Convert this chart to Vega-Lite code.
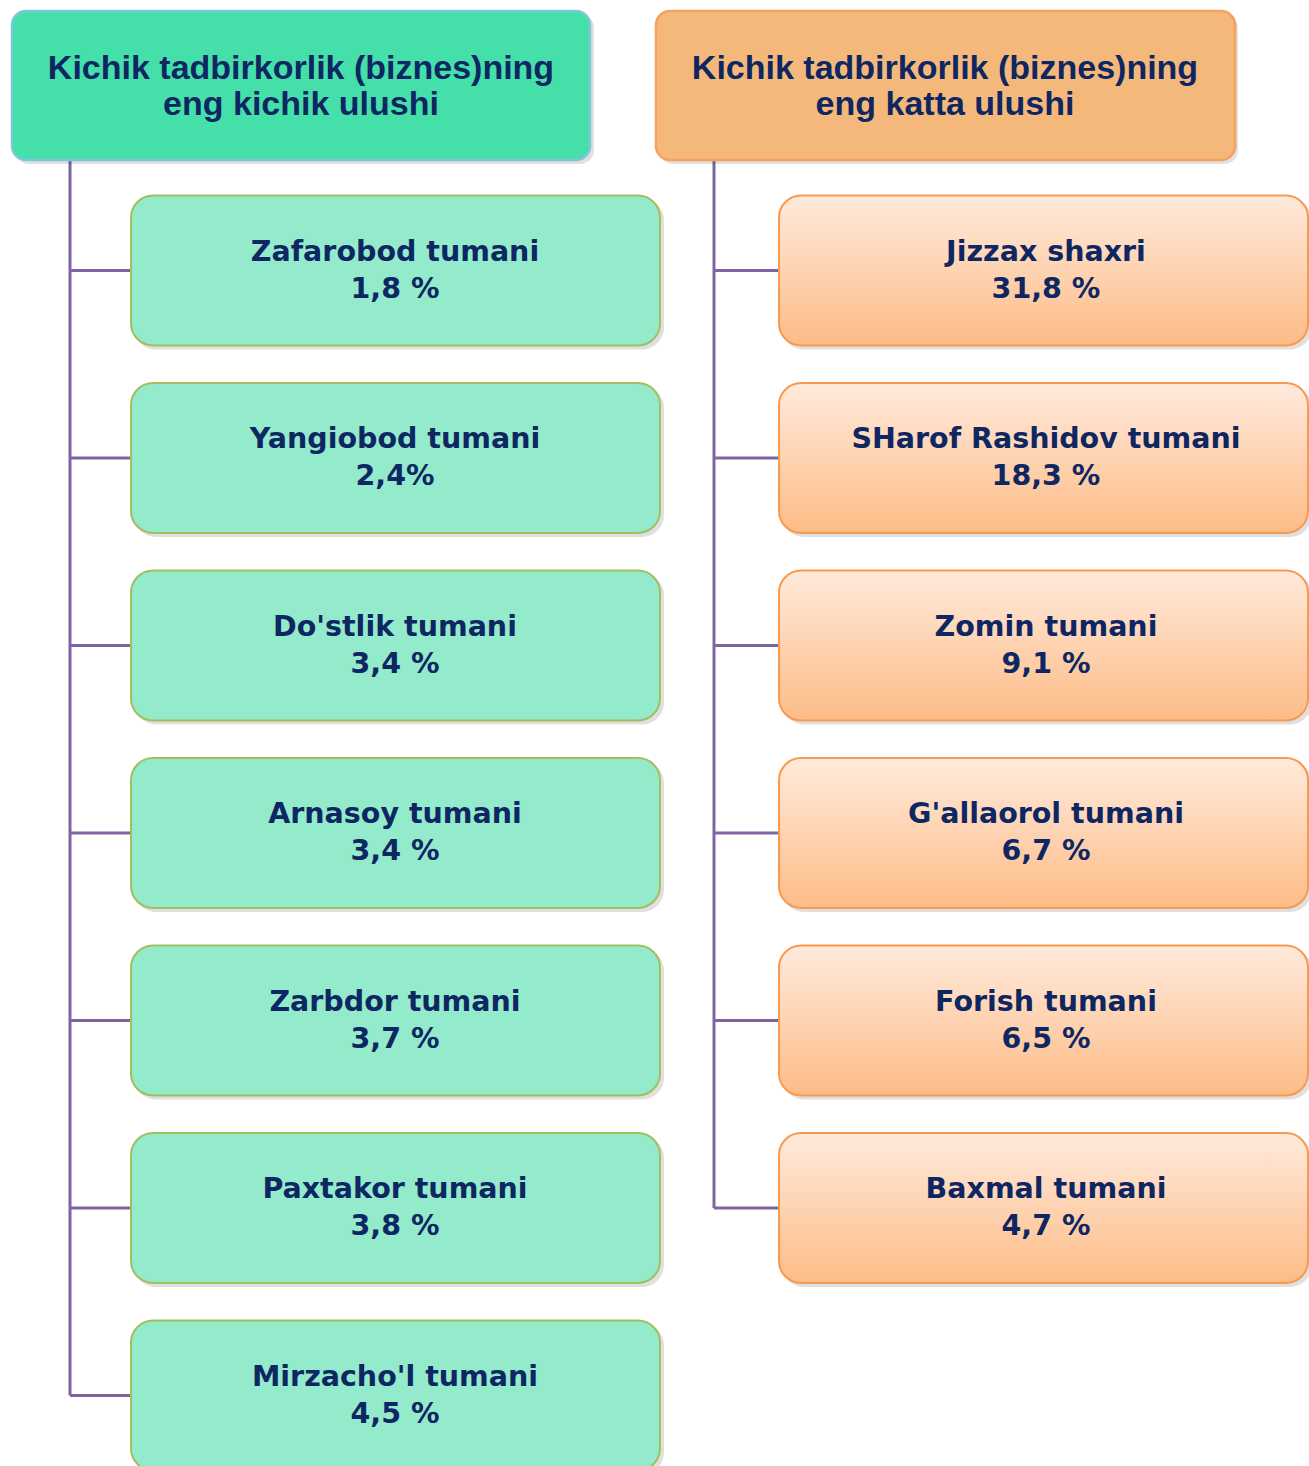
{
  "$schema": "https://vega.github.io/schema/vega-lite/v6.json",
  "width": 1309,
  "height": 1466,
  "autosize": {"type": "none"},
  "padding": 0,
  "background": "#ffffff",
  "view": {"stroke": null},
  "config": {"axis": null},
  "data": {
    "values": [
      {"col": 0, "rank": 0, "name": "Kichik tadbirkorlik (biznes)ning", "value": "eng kichik ulushi"},
      {"col": 0, "rank": 1, "name": "Zafarobod tumani", "value": "1,8 %"},
      {"col": 0, "rank": 2, "name": "Yangiobod tumani", "value": "2,4%"},
      {"col": 0, "rank": 3, "name": "Do'stlik tumani", "value": "3,4 %"},
      {"col": 0, "rank": 4, "name": "Arnasoy tumani", "value": "3,4 %"},
      {"col": 0, "rank": 5, "name": "Zarbdor tumani", "value": "3,7 %"},
      {"col": 0, "rank": 6, "name": "Paxtakor tumani", "value": "3,8 %"},
      {"col": 0, "rank": 7, "name": "Mirzacho'l tumani", "value": "4,5 %"},
      {"col": 1, "rank": 0, "name": "Kichik tadbirkorlik (biznes)ning", "value": "eng katta ulushi"},
      {"col": 1, "rank": 1, "name": "Jizzax shaxri", "value": "31,8 %"},
      {"col": 1, "rank": 2, "name": "SHarof Rashidov tumani", "value": "18,3 %"},
      {"col": 1, "rank": 3, "name": "Zomin tumani", "value": "9,1 %"},
      {"col": 1, "rank": 4, "name": "G'allaorol tumani", "value": "6,7 %"},
      {"col": 1, "rank": 5, "name": "Forish tumani", "value": "6,5 %"},
      {"col": 1, "rank": 6, "name": "Baxmal tumani", "value": "4,7 %"}
    ]
  },
  "encoding": {
    "x": {"field": "col", "type": "quantitative", "scale": {"domain": [0, 2.032609], "nice": false, "zero": false}, "axis": null},
    "y": {"field": "rank", "type": "quantitative", "scale": {"domain": [-0.442667, 7.376], "nice": false, "zero": false, "reverse": true}, "axis": null}
  },
  "layer": [
    {
      "mark": {"type": "rule", "color": "#8064A2", "strokeWidth": 3, "xOffset": 70},
      "encoding": {
        "x": {"field": "col", "type": "quantitative"},
        "y": {"aggregate": "min", "field": "rank", "type": "quantitative"},
        "y2": {"aggregate": "max", "field": "rank"}
      }
    },
    {
      "transform": [{"filter": "datum.rank > 0"}],
      "mark": {"type": "rule", "color": "#8064A2", "strokeWidth": 3, "xOffset": 70, "x2Offset": 140},
      "encoding": {
        "x2": {"field": "col"}
      }
    },
    {
      "transform": [{"filter": "datum.rank == 0"}],
      "mark": {"type": "rect", "fill": "#000000", "opacity": 0.12, "cornerRadius": 14, "xOffset": 15, "x2Offset": 594, "yOffset": -69, "y2Offset": 81},
      "encoding": {"x2": {"field": "col"}, "y2": {"field": "rank"}}
    },
    {
      "transform": [{"filter": "datum.rank == 0 && datum.col == 0"}],
      "mark": {"type": "rect", "fill": "#45DFAA", "stroke": "#7DC7DB", "strokeWidth": 2.5, "cornerRadius": 14, "xOffset": 12, "x2Offset": 590, "yOffset": -72, "y2Offset": 77},
      "encoding": {"x2": {"field": "col"}, "y2": {"field": "rank"}}
    },
    {
      "transform": [{"filter": "datum.rank == 0 && datum.col == 1"}],
      "mark": {"type": "rect", "fill": "#F4B97A", "stroke": "#F5A25E", "strokeWidth": 2.5, "cornerRadius": 14, "xOffset": 12, "x2Offset": 591, "yOffset": -72, "y2Offset": 77},
      "encoding": {"x2": {"field": "col"}, "y2": {"field": "rank"}}
    },
    {
      "transform": [{"filter": "datum.rank > 0 && datum.col == 0"}],
      "mark": {"type": "rect", "fill": "#000000", "opacity": 0.12, "cornerRadius": 22, "xOffset": 134, "x2Offset": 664, "yOffset": -72, "y2Offset": 79},
      "encoding": {"x2": {"field": "col"}, "y2": {"field": "rank"}}
    },
    {
      "transform": [{"filter": "datum.rank > 0 && datum.col == 1"}],
      "mark": {"type": "rect", "fill": "#000000", "opacity": 0.12, "cornerRadius": 22, "xOffset": 138, "x2Offset": 668, "yOffset": -72, "y2Offset": 79},
      "encoding": {"x2": {"field": "col"}, "y2": {"field": "rank"}}
    },
    {
      "transform": [{"filter": "datum.rank > 0 && datum.col == 0"}],
      "mark": {"type": "rect", "fill": "#93EBCC", "stroke": "#A3BE5E", "strokeWidth": 2, "cornerRadius": 22, "xOffset": 131, "x2Offset": 660, "yOffset": -75, "y2Offset": 75},
      "encoding": {"x2": {"field": "col"}, "y2": {"field": "rank"}}
    },
    {
      "transform": [{"filter": "datum.rank > 0 && datum.col == 1"}],
      "mark": {
        "type": "rect",
        "fill": {"gradient": "linear", "x1": 0, "y1": 0, "x2": 0, "y2": 1, "stops": [{"offset": 0, "color": "#FFEADC"}, {"offset": 1, "color": "#FDBC87"}]},
        "stroke": "#F79A50", "strokeWidth": 2, "cornerRadius": 22, "xOffset": 135, "x2Offset": 664, "yOffset": -75, "y2Offset": 75
      },
      "encoding": {"x2": {"field": "col"}, "y2": {"field": "rank"}}
    },
    {
      "transform": [{"filter": "datum.rank == 0"}],
      "mark": {"type": "text", "font": "Liberation Sans", "fontWeight": "bold", "fontSize": 34, "color": "#0E2762", "align": "center", "baseline": "middle", "xOffset": 301, "dy": -14},
      "encoding": {"text": {"field": "name"}}
    },
    {
      "transform": [{"filter": "datum.rank == 0"}],
      "mark": {"type": "text", "font": "Liberation Sans", "fontWeight": "bold", "fontSize": 34, "color": "#0E2762", "align": "center", "baseline": "middle", "xOffset": 301, "dy": 22},
      "encoding": {"text": {"field": "value"}}
    },
    {
      "transform": [{"filter": "datum.rank > 0 && datum.col == 0"}],
      "mark": {"type": "text", "font": "DejaVu Sans", "fontWeight": "bold", "fontSize": 28.5, "color": "#0E2762", "align": "center", "baseline": "middle", "xOffset": 395, "dy": -19},
      "encoding": {"text": {"field": "name"}}
    },
    {
      "transform": [{"filter": "datum.rank > 0 && datum.col == 0"}],
      "mark": {"type": "text", "font": "DejaVu Sans", "fontWeight": "bold", "fontSize": 28.5, "color": "#0E2762", "align": "center", "baseline": "middle", "xOffset": 395, "dy": 18},
      "encoding": {"text": {"field": "value"}}
    },
    {
      "transform": [{"filter": "datum.rank > 0 && datum.col == 1"}],
      "mark": {"type": "text", "font": "DejaVu Sans", "fontWeight": "bold", "fontSize": 28.5, "color": "#0E2762", "align": "center", "baseline": "middle", "xOffset": 402, "dy": -19},
      "encoding": {"text": {"field": "name"}}
    },
    {
      "transform": [{"filter": "datum.rank > 0 && datum.col == 1"}],
      "mark": {"type": "text", "font": "DejaVu Sans", "fontWeight": "bold", "fontSize": 28.5, "color": "#0E2762", "align": "center", "baseline": "middle", "xOffset": 402, "dy": 18},
      "encoding": {"text": {"field": "value"}}
    }
  ]
}
